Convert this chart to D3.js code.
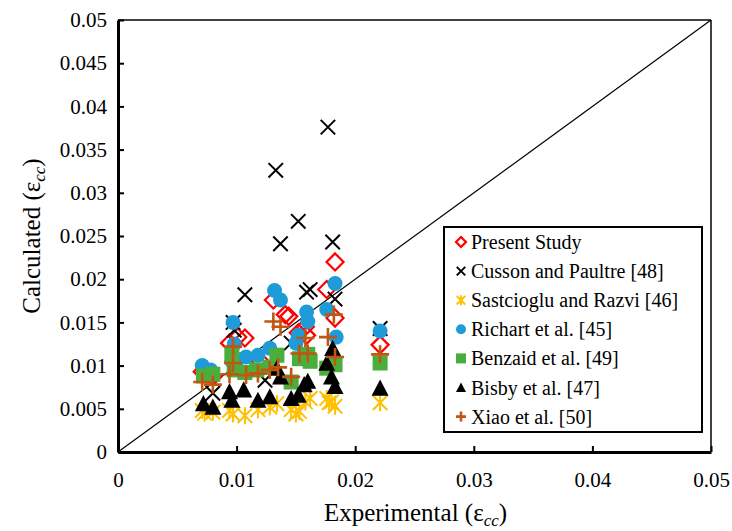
<!DOCTYPE html>
<html><head><meta charset="utf-8">
<script src="https://cdn.jsdelivr.net/npm/d3@7"></script>
<style>
html,body{margin:0;padding:0;background:#fff;}
</style></head>
<body><svg id="c" width="732" height="531" style="font-family:'Times New Roman',serif"></svg>
<script>
// ---- data ----
const xTicks = [0, 0.01, 0.02, 0.03, 0.04, 0.05];
const yTicks = [0, 0.005, 0.01, 0.015, 0.02, 0.025, 0.03, 0.035, 0.04, 0.045, 0.05];
const seriesNames = ["Present Study", "Cusson and Paultre [48]", "Sastcioglu and Razvi [46]", "Richart et al. [45]", "Benzaid et al. [49]", "Bisby et al. [47]", "Xiao et al. [50]"];
const presentStudy = [[0.0071,0.0093],[0.0080,0.0087],[0.0094,0.0126],[0.0101,0.0133],[0.0107,0.0132],[0.0131,0.0176],[0.0141,0.0159],[0.0144,0.0157],[0.0152,0.0138],[0.0159,0.0135],[0.0158,0.0145],[0.0176,0.0188],[0.0183,0.0220],[0.0183,0.0155],[0.0221,0.0124],[0.0120,0.0105]];
const cussonPaultre = [[0.0080,0.0068],[0.0097,0.0150],[0.0098,0.0141],[0.0107,0.0182],[0.0133,0.0326],[0.0137,0.0241],[0.0152,0.0267],[0.0159,0.0185],[0.0162,0.0188],[0.0177,0.0376],[0.0181,0.0243],[0.0183,0.0177],[0.0221,0.0143],[0.0146,0.0126],[0.0124,0.0083]];
const sastcioglu = [[0.0071,0.0048],[0.0073,0.0045],[0.0080,0.0046],[0.0094,0.0048],[0.0097,0.0044],[0.0107,0.0042],[0.0118,0.0049],[0.0128,0.0052],[0.0134,0.0056],[0.0146,0.0049],[0.0150,0.0044],[0.0153,0.0047],[0.0158,0.0058],[0.0162,0.0062],[0.0176,0.0062],[0.0178,0.0057],[0.0183,0.0053],[0.0180,0.0058],[0.0221,0.0057]];
const richart = [[0.0071,0.0100],[0.0078,0.0095],[0.0097,0.0150],[0.0098,0.0125],[0.0096,0.0105],[0.0101,0.0107],[0.0108,0.0110],[0.0118,0.0112],[0.0128,0.0120],[0.0132,0.0187],[0.0137,0.0176],[0.0152,0.0135],[0.0150,0.0126],[0.0159,0.0162],[0.0160,0.0151],[0.0176,0.0165],[0.0183,0.0195],[0.0184,0.0133],[0.0221,0.0140]];
const benzaid = [[0.0072,0.0088],[0.0080,0.0090],[0.0096,0.0112],[0.0098,0.0095],[0.0107,0.0092],[0.0117,0.0095],[0.0128,0.0098],[0.0134,0.0112],[0.0146,0.0081],[0.0153,0.0108],[0.0160,0.0113],[0.0162,0.0105],[0.0176,0.0097],[0.0183,0.0101],[0.0221,0.0103]];
const bisby = [[0.0072,0.0056],[0.0080,0.0052],[0.0094,0.0070],[0.0096,0.0060],[0.0106,0.0072],[0.0118,0.0060],[0.0128,0.0064],[0.0134,0.0097],[0.0137,0.0087],[0.0146,0.0062],[0.0152,0.0066],[0.0157,0.0078],[0.0160,0.0082],[0.0176,0.0103],[0.0180,0.0087],[0.0181,0.0120],[0.0183,0.0076],[0.0221,0.0074]];
const xiao = [[0.0071,0.0081],[0.0080,0.0078],[0.0097,0.0122],[0.0097,0.0103],[0.0094,0.0090],[0.0108,0.0089],[0.0118,0.0091],[0.0128,0.0095],[0.0131,0.0151],[0.0137,0.0145],[0.0146,0.0087],[0.0135,0.0098],[0.0153,0.0114],[0.0158,0.0132],[0.0160,0.0114],[0.0177,0.0133],[0.0182,0.0159],[0.0183,0.0110],[0.0221,0.0113]];
const seriesData = [presentStudy, cussonPaultre, sastcioglu, richart, benzaid, bisby, xiao];
const seriesColors = ["#FF0000", "#000000", "#FFC000", "#1F9BD8", "#4AAE3C", "#000000", "#C0560F"];
const seriesShapes = ["diamond", "x", "asterisk", "circle", "square", "triangle", "plus"];

// ---- layout ----
const FONT = "Times New Roman";
const L = 118, R = 711, T = 20, B = 452;
const svg = d3.select("#c");
const x = d3.scaleLinear().domain([0, 0.05]).range([L, R]);
const y = d3.scaleLinear().domain([0, 0.05]).range([B, T]);
const fmt = v => v === 0 ? "0" : String(+v.toFixed(3));
const setFont = (sel, size) => sel.attr("font-family", FONT).style("font-family", "'Times New Roman', 'Liberation Serif', serif").attr("font-size", size);

// axis titles
const xt = setFont(svg.append("text"), 25).attr("x", (L + R) / 2 + 1).attr("y", 521).attr("text-anchor", "middle");
xt.append("tspan").text("Experimental (ε");
xt.append("tspan").text("cc").attr("font-style", "italic").attr("font-size", 17).attr("dy", 5);
xt.append("tspan").text(")").attr("dy", -5);
const yt = setFont(svg.append("text"), 25).attr("transform", `translate(40,${(T + B) / 2}) rotate(-90)`).attr("text-anchor", "middle");
yt.append("tspan").text("Calculated (ε");
yt.append("tspan").text("cc").attr("font-style", "italic").attr("font-size", 17).attr("dy", 5);
yt.append("tspan").text(")").attr("dy", -5);

// frame top/right
svg.append("line").attr("x1", L).attr("x2", R).attr("y1", T).attr("y2", T).attr("stroke", "#000").attr("stroke-width", 1.5);
svg.append("line").attr("x1", R).attr("x2", R).attr("y1", T).attr("y2", B).attr("stroke", "#000").attr("stroke-width", 1.5);

// 1:1 line
svg.append("line").attr("x1", x(0)).attr("y1", y(0)).attr("x2", x(0.05)).attr("y2", y(0.05)).attr("stroke", "#000").attr("stroke-width", 1.2);

// axes
const ax = svg.append("g").attr("transform", `translate(0,${B})`)
  .call(d3.axisBottom(x).tickValues(xTicks).tickFormat(fmt).tickSizeInner(-6).tickSizeOuter(0).tickPadding(20));
const ay = svg.append("g").attr("transform", `translate(${L},0)`)
  .call(d3.axisLeft(y).tickValues(yTicks).tickFormat(fmt).tickSizeInner(-6).tickSizeOuter(0).tickPadding(11));
[ax, ay].forEach(g => {
  setFont(g, 21);
  g.select(".domain").attr("stroke", "#000").attr("stroke-width", 3);
  g.selectAll(".tick line").attr("stroke", "#000").attr("stroke-width", 2);
  setFont(g.selectAll(".tick text"), 21).attr("fill", "#000");
});
ax.selectAll(".tick text").attr("dy", "0.71em");

// marker drawing
function drawMarker(g, shape, color, s) {
  const h = s / 2;
  if (shape === "diamond") {
    g.append("path").attr("d", `M0,${-h}L${h},0L0,${h}L${-h},0Z`).attr("fill", "none").attr("stroke", color).attr("stroke-width", 2.2);
  } else if (shape === "x") {
    const a = h * 0.85;
    g.append("path").attr("d", `M${-a},${-a}L${a},${a}M${-a},${a}L${a},${-a}`).attr("stroke", color).attr("stroke-width", 2);
  } else if (shape === "asterisk") {
    const a = h * 0.85;
    g.append("path").attr("d", `M${-a},${-a}L${a},${a}M${-a},${a}L${a},${-a}M0,${-h}L0,${h}`).attr("stroke", color).attr("stroke-width", 2);
  } else if (shape === "circle") {
    g.append("circle").attr("r", h).attr("fill", color);
  } else if (shape === "square") {
    g.append("rect").attr("x", -h).attr("y", -h).attr("width", s).attr("height", s).attr("fill", color);
  } else if (shape === "triangle") {
    g.append("path").attr("d", `M0,${-h}L${h},${h * 0.9}L${-h},${h * 0.9}Z`).attr("fill", color);
  } else if (shape === "plus") {
    g.append("path").attr("d", `M${-h},0L${h},0M0,${-h}L0,${h}`).attr("stroke", color).attr("stroke-width", 2.6);
  }
}
const markerSize = {diamond: 17, x: 17, asterisk: 17, circle: 15, square: 15, triangle: 17, plus: 18};

seriesData.forEach((data, i) => {
  const g = svg.append("g");
  data.forEach(d => {
    const m = g.append("g").attr("transform", `translate(${x(d[0])},${y(d[1])})`);
    drawMarker(m, seriesShapes[i], seriesColors[i], markerSize[seriesShapes[i]]);
  });
});

// legend
const lg = svg.append("g");
lg.append("rect").attr("x", 444).attr("y", 227).attr("width", 258).attr("height", 205).attr("fill", "#fff").attr("stroke", "#000").attr("stroke-width", 2);
seriesNames.forEach((n, i) => {
  const cy = 242 + i * 29.1;
  const m = lg.append("g").attr("transform", `translate(461,${cy})`);
  drawMarker(m, seriesShapes[i], seriesColors[i], 10);
  setFont(lg.append("text"), 20).attr("x", 471).attr("y", cy).attr("dy", "0.35em").text(n);
});
</script></body></html>
